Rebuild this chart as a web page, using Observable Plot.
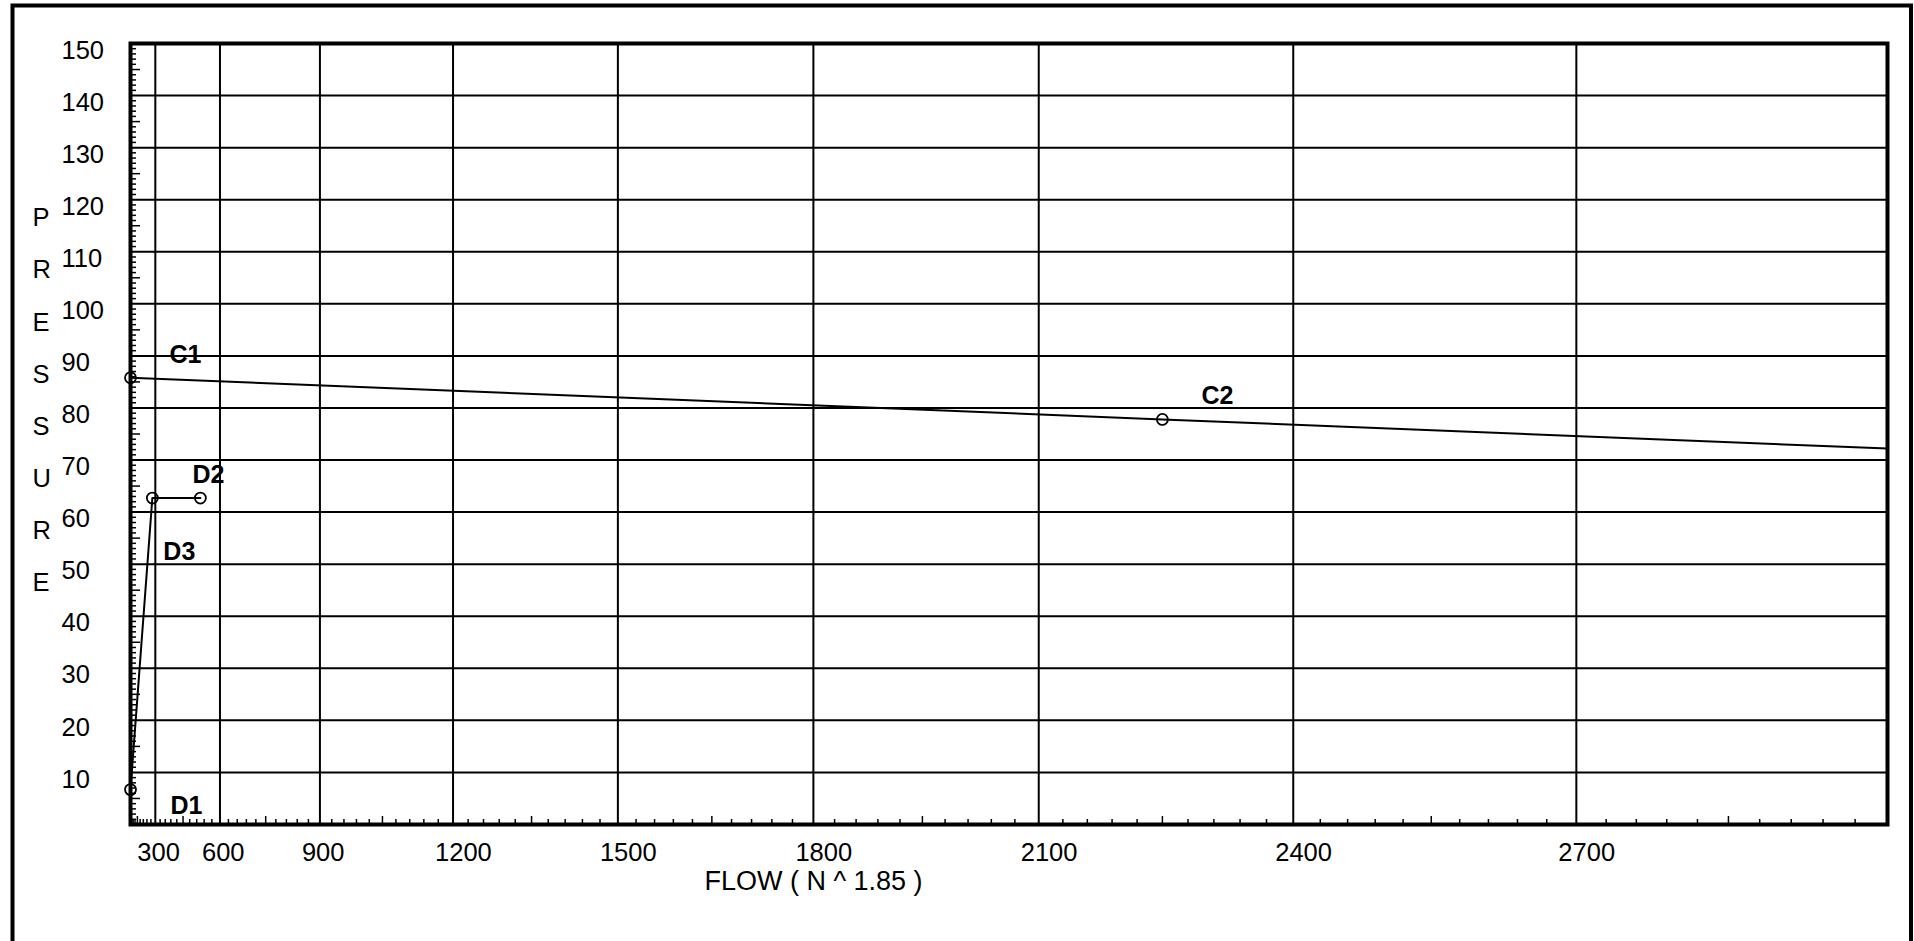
<!DOCTYPE html>
<html>
<head>
<meta charset="utf-8">
<script src="https://cdn.jsdelivr.net/npm/d3@7"></script>
<script src="https://cdn.jsdelivr.net/npm/@observablehq/plot@0.6"></script>
<style>
  html, body { margin: 0; padding: 0; background: #fff; overflow: hidden; }
</style>
</head>
<body>
<div id="chart"></div>
<script>
// ---- data ----
const cFlow = [0, 2250, 3000];
const cPressure = [85.8, 77.8, 72.2];
const dFlow = [0, 280, 525];
const dPressure = [6.7, 62.7, 62.7];
const pointNames = ["C1", "C2", "D1", "D3", "D2"];
const pointFlow = [0, 2250, 0, 280, 525];
const pointPressure = [85.8, 77.8, 6.7, 62.7, 62.7];
const xTickLabels = [300, 600, 900, 1200, 1500, 1800, 2100, 2400, 2700];
const yTickLabels = [10, 20, 30, 40, 50, 60, 70, 80, 90, 100, 110, 120, 130, 140, 150];
const xTitle = "FLOW ( N ^ 1.85 )";
const yTitle = "PRESSURE";

// ---- tables ----
const cLine = cFlow.map((f, i) => ({flow: f, pressure: cPressure[i]}));
const dLine = dFlow.map((f, i) => ({flow: f, pressure: dPressure[i]}));
const points = pointNames.map((n, i) => ({name: n, flow: pointFlow[i], pressure: pointPressure[i]}));

const W = 1914, H = 941;
const mL = 130, mT = 43, mR = 27, mB = 117;
const fw = W - mL - mR, fh = H - mT - mB;

const yGrid = yTickLabels.filter(v => v < 150);
const xGrid = xTickLabels;
const yMinor = d3.range(1, 150).filter(v => v % 5 !== 0);
const yMid = d3.range(5, 150, 10);
const xMinor = d3.range(30, 3000, 30).filter(v => v % 150 !== 0);
const xMid = d3.range(150, 3000, 300);

const labelOffset = {C1: [39, -23], C2: [39, -23], D1: [40, 16], D2: [-8, -23], D3: [11, 54]};
const font = "'Liberation Sans', Arial, Helvetica, sans-serif";

const labelMarks = points.map(p => Plot.text([p], {
  x: "flow", y: "pressure", text: "name",
  dx: labelOffset[p.name][0], dy: labelOffset[p.name][1],
  textAnchor: "start", fontWeight: "bold", fontSize: 25, fill: "black"
}));

const chart = Plot.plot({
  width: W, height: H,
  marginLeft: mL, marginTop: mT, marginRight: mR, marginBottom: mB,
  style: {fontFamily: font, fontSize: "25px", background: "#fff", color: "#000"},
  x: {type: "pow", exponent: 1.85, domain: [0, 3000]},
  y: {type: "linear", domain: [0, 150]},
  marks: [
    // grid
    Plot.ruleY(yGrid, {stroke: "black", strokeWidth: 2}),
    Plot.ruleX(xGrid, {stroke: "black", strokeWidth: 2}),
    // minor ticks
    Plot.tickY(yMinor, {y: d => d, insetRight: fw - 6, stroke: "black", strokeWidth: 1.5}),
    Plot.tickY(yMid, {y: d => d, insetRight: fw - 10, stroke: "black", strokeWidth: 1.5}),
    Plot.tickX(xMinor, {x: d => d, insetTop: fh - 5, stroke: "black", strokeWidth: 1.5}),
    Plot.tickX(xMid, {x: d => d, insetTop: fh - 8, stroke: "black", strokeWidth: 1.5}),
    // inner frame
    Plot.frame({stroke: "black", strokeWidth: 4}),
    // outer border
    Plot.frame({stroke: "black", strokeWidth: 4, insetLeft: -118, insetTop: -38, insetRight: -23.5, insetBottom: -160}),
    // axes
    Plot.axisX({ticks: xTickLabels, anchor: "bottom", tickSize: 0, tickPadding: 18, textAnchor: "start", dx: -18,
      fontSize: 25.5, label: null, tickFormat: d3.format("d"), fill: "black"}),
    Plot.axisY({ticks: yTickLabels, anchor: "left", tickSize: 0, tickPadding: 0, textAnchor: "start", dx: -69, dy: 7,
      fontSize: 25.5, label: null, tickFormat: d3.format("d"), fill: "black"}),
    // titles
    Plot.text([xTitle], {text: d => d, frameAnchor: "bottom", lineAnchor: "middle", dx: -195.5, dy: 57,
      fontSize: 27, fill: "black"}),
    Plot.text([yTitle.split("").join("\n")], {text: d => d, frameAnchor: "left", lineAnchor: "middle", textAnchor: "start",
      dx: -98, dy: -42, lineHeight: 2.043, fontSize: 25.5, fill: "black"}),
    // curves
    Plot.line(cLine, {x: "flow", y: "pressure", stroke: "black", strokeWidth: 2}),
    Plot.line(dLine, {x: "flow", y: "pressure", stroke: "black", strokeWidth: 2}),
    Plot.dot(points, {x: "flow", y: "pressure", r: 5.5, stroke: "black", strokeWidth: 1.8, fill: "none"}),
    ...labelMarks
  ]
});
document.getElementById("chart").appendChild(chart);
</script>
</body>
</html>
